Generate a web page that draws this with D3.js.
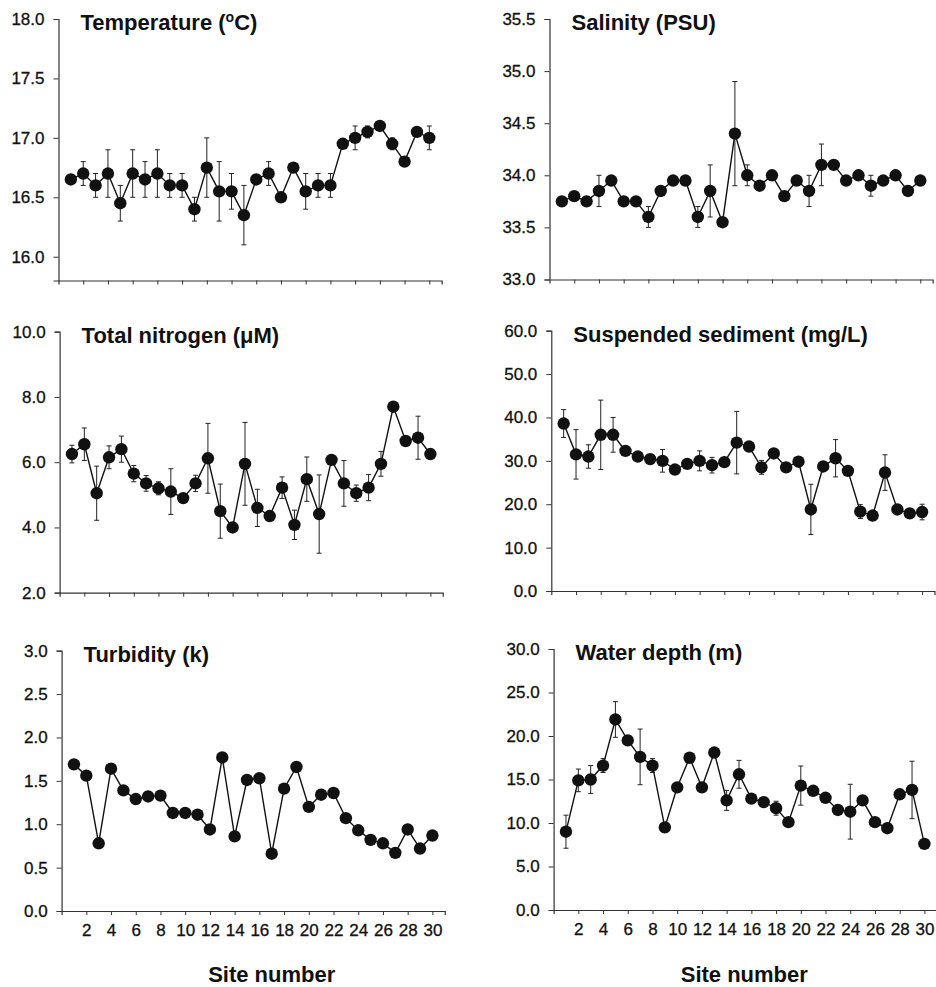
<!DOCTYPE html>
<html>
<head>
<meta charset="utf-8">
<script src="https://cdn.jsdelivr.net/npm/d3@7"></script>
<style>
  html, body { margin: 0; padding: 0; background: #fff; }
  svg { display: block; }
  text { font-family: "Liberation Sans", Arial, sans-serif; }
</style>
</head>
<body>
<svg id="chart" width="936" height="987"></svg>
<script>
// ---------- DATA ----------
const sites = [1,2,3,4,5,6,7,8,9,10,11,12,13,14,15,16,17,18,19,20,21,22,23,24,25,26,27,28,29,30];
const xTickValues = [2,4,6,8,10,12,14,16,18,20,22,24,26,28,30];

const temperature = [16.65,16.70,16.60,16.70,16.45,16.70,16.65,16.70,16.60,16.60,16.40,16.75,16.55,16.55,16.35,16.65,16.70,16.50,16.75,16.55,16.60,16.60,16.95,17.00,17.05,17.10,16.95,16.80,17.05,17.00];
const temperatureErr = [0.03,0.10,0.10,0.20,0.15,0.20,0.15,0.20,0.10,0.10,0.10,0.25,0.25,0.15,0.25,0.03,0.10,0.02,0.02,0.15,0.10,0.10,0.02,0.10,0.05,0.02,0.05,0.02,0.03,0.10];

const salinity = [33.75,33.80,33.75,33.85,33.95,33.75,33.75,33.60,33.85,33.95,33.95,33.60,33.85,33.55,34.40,34.00,33.90,34.00,33.80,33.95,33.85,34.10,34.10,33.95,34.00,33.90,33.95,34.00,33.85,33.95];
const salinityErr = [0.02,0.02,0.02,0.15,0.02,0.02,0.02,0.10,0.02,0.02,0.02,0.10,0.25,0.02,0.50,0.10,0.02,0.02,0.02,0.02,0.15,0.20,0.02,0.02,0.02,0.10,0.02,0.02,0.02,0.02];

const nitrogen = [6.25,6.55,5.05,6.15,6.40,5.65,5.35,5.20,5.10,4.90,5.35,6.12,4.50,4.00,5.95,4.60,4.35,5.22,4.08,5.48,4.41,6.07,5.35,5.05,5.22,5.95,7.70,6.65,6.75,6.25];
const nitrogenErr = [0.27,0.50,0.83,0.35,0.40,0.25,0.24,0.20,0.70,0.05,0.25,1.07,0.83,0.05,1.27,0.57,0.05,0.33,0.45,0.68,1.20,0.05,0.70,0.25,0.40,0.38,0.05,0.05,0.66,0.05];

const sediment = [38.6,31.5,31.0,36.0,36.0,32.3,31.0,30.4,30.0,28.0,29.3,30.0,29.0,29.7,34.2,33.3,28.5,31.7,28.5,29.8,18.8,28.7,30.6,27.7,18.3,17.4,27.3,18.8,17.9,18.2];
const sedimentErr = [3.2,5.7,2.7,8.0,4.0,0.3,0.3,0.3,2.6,0.3,0.3,2.3,1.8,0.3,7.2,0.3,1.6,0.3,0.3,0.3,5.8,0.3,4.3,0.3,1.6,0.3,4.1,0.3,0.3,1.8];

const turbidity = [1.69,1.56,0.78,1.64,1.39,1.29,1.32,1.33,1.13,1.13,1.11,0.94,1.77,0.86,1.51,1.53,0.66,1.41,1.66,1.20,1.34,1.36,1.07,0.93,0.82,0.78,0.67,0.94,0.72,0.87];

const depth = [9.0,14.9,15.0,16.6,21.9,19.5,17.6,16.6,9.5,14.1,17.5,14.1,18.1,12.6,15.6,12.8,12.4,11.7,10.1,14.3,13.7,12.9,11.5,11.3,12.6,10.1,9.4,13.3,13.8,7.6];
const depthErr = [1.9,1.3,1.6,0.8,2.05,0.2,3.2,0.8,0.2,0.2,0.2,0.2,0.2,1.15,1.6,0.2,0.2,0.8,0.2,2.25,0.5,0.2,0.2,3.15,0.2,0.2,0.2,0.2,3.3,0.2];

const titles = ["Temperature (", "Salinity (PSU)", "Total nitrogen (\u03BCM)", "Suspended sediment (mg/L)", "Turbidity (k)", "Water depth (m)"];
const xAxisTitle = "Site number";

const tempTicks = [16.0,16.5,17.0,17.5,18.0];
const salTicks = [33.0,33.5,34.0,34.5,35.0,35.5];
const nitTicks = [2,4,6,8,10];
const sedTicks = [0,10,20,30,40,50,60];
const turbTicks = [0,0.5,1.0,1.5,2.0,2.5,3.0];
const depthTicks = [0,5,10,15,20,25,30];

// ---------- LAYOUT ----------
const panels = [
  {title: titles[0], values: temperature, err: temperatureErr, domain: [15.8, 18.0], ticks: tempTicks, x0: 58.5, top: 19, bottom: 280.5, superC: true},
  {title: titles[1], values: salinity, err: salinityErr, domain: [33.0, 35.5], ticks: salTicks, x0: 549.5, top: 19, bottom: 279.5},
  {title: titles[2], values: nitrogen, err: nitrogenErr, domain: [2, 10], ticks: nitTicks, x0: 59.6, top: 331.7, bottom: 592.7},
  {title: titles[3], values: sediment, err: sedimentErr, domain: [0, 60], ticks: sedTicks, x0: 551.3, top: 330.7, bottom: 591},
  {title: titles[4], values: turbidity, err: null, domain: [0, 3], ticks: turbTicks, x0: 61.6, top: 650.7, bottom: 911, xLabels: true},
  {title: titles[5], values: depth, err: depthErr, domain: [0, 30], ticks: depthTicks, x0: 553.6, top: 649, bottom: 910, xLabels: true}
];
const perSite = 12.36;
const ink = "#111";

const svg = d3.select("#chart");

panels.forEach(p => {
  const x = d3.scaleLinear().domain([0, 31]).range([p.x0, p.x0 + 31 * perSite]);
  const y = d3.scaleLinear().domain(p.domain).range([p.bottom, p.top]);
  const g = svg.append("g");

  // y axis
  const yAxis = d3.axisLeft(y).tickValues(p.ticks).tickSize(5).tickPadding(9)
    .tickFormat(d3.format(".1f"));
  const ya = g.append("g").attr("transform", `translate(${p.x0},0)`).call(yAxis);
  ya.select(".domain").attr("stroke", "#333").attr("stroke-width", 1.2);
  ya.selectAll(".tick line").attr("stroke", "#333").attr("stroke-width", 1);
  ya.selectAll(".tick text").attr("font-size", 17).attr("fill", ink)
    .attr("stroke", ink).attr("stroke-width", 0.3)
    .attr("font-family", "'Liberation Sans', Arial, sans-serif");

  // x axis
  const xAxis = d3.axisBottom(x).tickValues(xTickValues).tickSize(4).tickPadding(9)
    .tickFormat(p.xLabels ? d3.format("d") : () => "");
  const xa = g.append("g").attr("transform", `translate(0,${p.bottom})`).call(xAxis);
  xa.select(".domain").attr("stroke", "#333").attr("stroke-width", 1.2);
  xa.selectAll(".tick line").attr("stroke", "#333").attr("stroke-width", 1);
  xa.selectAll(".tick text").attr("font-size", 17).attr("fill", ink)
    .attr("stroke", ink).attr("stroke-width", 0.3)
    .attr("font-family", "'Liberation Sans', Arial, sans-serif");

  // error bars
  if (p.err) {
    const eb = g.append("g").attr("stroke", "#222").attr("stroke-width", 1);
    sites.forEach((s, i) => {
      const e = p.err[i];
      const v = p.values[i];
      const xc = x(s);
      eb.append("line").attr("x1", xc).attr("x2", xc).attr("y1", y(v - e)).attr("y2", y(v + e));
      eb.append("line").attr("x1", xc - 2.5).attr("x2", xc + 2.5).attr("y1", y(v - e)).attr("y2", y(v - e));
      eb.append("line").attr("x1", xc - 2.5).attr("x2", xc + 2.5).attr("y1", y(v + e)).attr("y2", y(v + e));
    });
  }

  // line
  const line = d3.line().x((d, i) => x(sites[i])).y(d => y(d));
  g.append("path").datum(p.values).attr("d", line)
    .attr("fill", "none").attr("stroke", ink).attr("stroke-width", 1.4);

  // markers
  g.selectAll("circle.pt").data(p.values).join("circle")
    .attr("class", "pt")
    .attr("cx", (d, i) => x(sites[i])).attr("cy", d => y(d)).attr("r", 6.2)
    .attr("fill", ink);

  // title
  const t = g.append("text").attr("x", p.x0 + 22).attr("y", p.top + 11)
    .attr("font-size", 22).attr("font-weight", "bold").attr("fill", ink)
    .text(p.title);
  if (p.superC) {
    t.append("tspan").attr("font-size", 14).attr("dy", -8).text("o");
    t.append("tspan").attr("dy", 8).text("C)");
  }
});

// x axis titles
[271.7, 744.3].forEach(cx => {
  svg.append("text").attr("x", cx).attr("y", 982).attr("text-anchor", "middle")
    .attr("font-size", 22).attr("font-weight", "bold").attr("fill", ink)
    .text(xAxisTitle);
});
</script>
</body>
</html>
